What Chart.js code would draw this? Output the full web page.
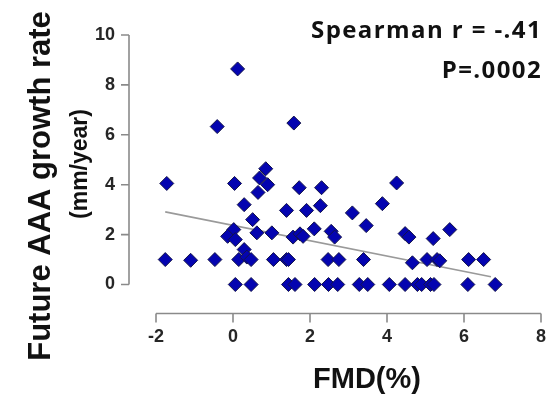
<!DOCTYPE html>
<html>
<head>
<meta charset="utf-8">
<script src="https://cdn.jsdelivr.net/npm/chart.js@4.4.1/dist/chart.umd.min.js"></script>
<style>
  html, body { margin: 0; padding: 0; background: #fff; }
</style>
</head>
<body>
<canvas id="fmdChart" width="549" height="395"></canvas>
<script>
// FMD (%) vs future AAA growth rate (mm/year)
const fmdX = [
  0.12, -0.41, 1.58, -1.72, 0.04, 0.85, 0.69, 0.90, 0.65, 0.29,
  1.72, 2.30, 1.39, 1.91, 2.27, 4.25, 3.88, 3.10, 3.46, 0.51,
  0.02, -0.14, 0.06, 0.62, 1.01, 1.56, 1.74, 1.82, 2.11, 2.55,
  2.64, 4.47, 4.57, 5.20, 5.63,
  -1.76, -1.10, -0.47, 0.15, 0.29, 0.36, 0.47, 1.05, 1.39, 1.44,
  2.47, 2.75, 3.39, 4.66, 5.04, 5.30, 5.37, 6.12, 6.51,
  0.06, 0.47, 1.44, 1.61, 2.12, 2.48, 2.72, 3.28, 3.50, 4.06,
  4.47, 4.79, 4.90, 5.13, 5.22, 6.10, 6.81
];
const growthY = [
  8.64, 6.33, 6.47, 4.05, 4.05, 4.64, 4.27, 4.00, 3.69, 3.20,
  3.88, 3.88, 2.97, 2.97, 3.16, 4.07, 3.24, 2.87, 2.36, 2.60,
  2.20, 1.93, 1.80, 2.07, 2.07, 1.90, 2.03, 1.93, 2.23, 2.13,
  1.90, 2.04, 1.90, 1.84, 2.20,
  1.00, 0.97, 1.00, 1.00, 1.40, 1.10, 1.00, 1.00, 1.00, 1.00,
  1.00, 1.00, 1.00, 0.87, 1.00, 1.00, 0.95, 1.00, 1.00,
  0, 0, 0, 0, 0, 0, 0, 0, 0, 0,
  0, 0, 0, 0, 0, 0, 0
];
// fitted line end points
const fitX = [-1.76, 6.70];
const fitY = [2.91, 0.31];

const xTicks = [-2, 0, 2, 4, 6, 8];
const yTicks = [0, 2, 4, 6, 8, 10];

const xTitle = 'FMD(%)';
const yTitle = ['Future AAA growth rate', '(mm/year)'];
const statText = ['Spearman r = -.41', 'P=.0002'];

const axisFont = '"Liberation Sans", Arial, sans-serif';

// Prism style axes, pulled away from the plot area
const offsetAxes = {
  id: 'offsetAxes',
  afterDraw(chart) {
    const {ctx, scales: {x, y}, chartArea} = chart;
    const axX = chartArea.left - 27;
    const axY = chartArea.bottom + 29;
    ctx.save();
    ctx.strokeStyle = '#8a8a8a';
    ctx.lineWidth = 1.6;
    ctx.beginPath();
    ctx.moveTo(axX, y.getPixelForValue(yTicks[yTicks.length - 1]));
    ctx.lineTo(axX, y.getPixelForValue(yTicks[0]));
    yTicks.forEach(v => {
      const py = y.getPixelForValue(v);
      ctx.moveTo(axX, py);
      ctx.lineTo(axX - 8, py);
    });
    ctx.moveTo(x.getPixelForValue(xTicks[0]), axY);
    ctx.lineTo(x.getPixelForValue(xTicks[xTicks.length - 1]), axY);
    xTicks.forEach(v => {
      const px = x.getPixelForValue(v);
      ctx.moveTo(px, axY);
      ctx.lineTo(px, axY + 9);
    });
    ctx.stroke();
    ctx.restore();
  }
};

// axis titles and the statistics text
const titles = {
  id: 'titles',
  afterDraw(chart) {
    const {ctx} = chart;
    ctx.save();
    ctx.fillStyle = '#111';
    ctx.textAlign = 'center';
    ctx.textBaseline = 'alphabetic';

    ctx.font = 'bold 29px ' + axisFont;
    ctx.fillText(xTitle, 367, 388);

    ctx.save();
    ctx.translate(50, 186);
    ctx.rotate(-Math.PI / 2);
    ctx.font = 'bold 31px ' + axisFont;
    ctx.fillText(yTitle[0], 0, 0);
    ctx.restore();

    ctx.save();
    ctx.translate(87, 164);
    ctx.rotate(-Math.PI / 2);
    ctx.font = 'bold 23px ' + axisFont;
    ctx.fillText(yTitle[1], 0, 0);
    ctx.restore();

    ctx.textAlign = 'right';
    ctx.font = 'bold 24px "Open Sans", Lato, sans-serif';
    ctx.letterSpacing = '1.4px';
    ctx.fillText(statText[0], 542, 38);
    ctx.fillText(statText[1], 542, 78);
    ctx.restore();
  }
};

// no extra padding from the tick labels, so the plot area stays put
const noPad = s => {
  s.paddingLeft = s.paddingRight = s.paddingTop = s.paddingBottom = 0;
};

const points = fmdX.map((v, i) => ({x: v, y: growthY[i]}));
const fitLine = fitX.map((v, i) => ({x: v, y: fitY[i]}));

const chartCtx = document.getElementById('fmdChart').getContext('2d');
new Chart(chartCtx, {
  type: 'scatter',
  data: {
    datasets: [
      {
        type: 'line',
        label: 'fit',
        data: fitLine,
        borderColor: '#9a9a9a',
        borderWidth: 1.6,
        pointRadius: 0,
        fill: false,
        order: 2
      },
      {
        label: 'patients',
        data: points,
        pointStyle: 'rectRot',
        pointRadius: 7,
        pointHoverRadius: 7,
        backgroundColor: '#0404b0',
        borderColor: '#14144a',
        borderWidth: 1,
        clip: false,
        order: 1
      }
    ]
  },
  options: {
    responsive: false,
    animation: false,
    layout: {padding: {top: 35, right: 3, left: 0, bottom: 0}},
    plugins: {
      legend: {display: false},
      tooltip: {enabled: false}
    },
    scales: {
      x: {
        type: 'linear',
        min: -2,
        max: 8,
        afterBuildTicks: s => { s.ticks = xTicks.map(v => ({value: v})); },
        afterFit: s => { s.height = 110.5; noPad(s); },
        grid: {display: false, drawTicks: false},
        border: {display: false},
        ticks: {
          padding: 42,
          color: '#262626',
          font: {family: axisFont, size: 18, weight: 'bold'}
        }
      },
      y: {
        type: 'linear',
        min: 0,
        max: 10,
        afterBuildTicks: s => { s.ticks = yTicks.map(v => ({value: v})); },
        afterFit: s => { s.width = 156; noPad(s); },
        grid: {display: false, drawTicks: false},
        border: {display: false},
        ticks: {
          padding: 41,
          color: '#262626',
          font: {family: axisFont, size: 18, weight: 'bold'}
        }
      }
    }
  },
  plugins: [offsetAxes, titles]
});
</script>
</body>
</html>
